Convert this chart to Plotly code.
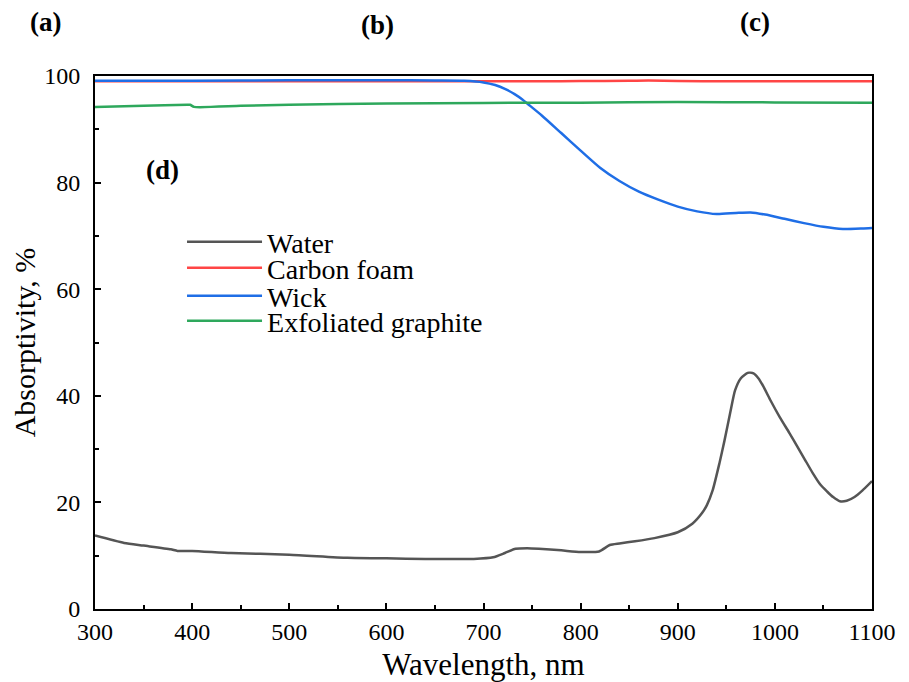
import plotly.graph_objects as go

# ---------------- data ----------------
water_x = [300, 330, 350, 378, 385, 400, 440, 500, 560, 600, 640, 690, 710, 722,
           733, 745, 757, 780, 800, 819, 830, 840, 856, 876, 900, 915, 925, 930,
           936, 943, 948, 954, 959, 965, 972, 978, 983, 988, 995, 1005, 1015, 1023,
           1031, 1039, 1047, 1054, 1060, 1067, 1074, 1082, 1090, 1100]
water_y = [13.8, 12.4, 11.9, 11.2, 10.9, 10.9, 10.5, 10.2, 9.6, 9.5, 9.4, 9.4, 9.7,
           10.5, 11.3, 11.4, 11.3, 11.0, 10.7, 10.8, 12.0, 12.3, 12.7, 13.3, 14.4,
           16.0, 18.0, 19.5, 22.3, 27.4, 31.5, 36.8, 41.0, 43.3, 44.3, 44.2, 43.3,
           41.8, 39.3, 36.0, 33.0, 30.5, 28.0, 25.5, 23.3, 22.0, 21.0, 20.2, 20.3,
           21.0, 22.2, 24.0]

foam_x = [300, 400, 500, 600, 700, 760, 800, 850, 870, 900, 950, 1000, 1050, 1100]
foam_y = [99.0, 99.0, 99.0, 99.0, 99.0, 99.0, 99.05, 99.1, 99.15, 99.05, 99.0,
          99.0, 99.0, 99.0]

wick_x = [300, 400, 500, 600, 650, 680, 700, 712, 722, 732, 740, 748, 760, 780,
          800, 820, 840, 860, 880, 900, 920, 940, 960, 975, 990, 1010, 1030, 1050,
          1070, 1090, 1100]
wick_y = [99.1, 99.1, 99.2, 99.2, 99.15, 99.1, 98.8, 98.3, 97.6, 96.6, 95.6, 94.4,
          92.6, 89.3, 86.0, 82.8, 80.3, 78.3, 76.8, 75.5, 74.6, 74.1, 74.3, 74.4,
          74.0, 73.2, 72.4, 71.7, 71.3, 71.4, 71.5]

graphite_x = [300, 350, 395, 398, 402, 450, 500, 600, 700, 800, 900, 1000, 1100]
graphite_y = [94.2, 94.4, 94.6, 94.6, 94.2, 94.4, 94.6, 94.85, 94.95, 95.0, 95.1,
              95.05, 95.0]

series = [
    ("Water", water_x, water_y, "#555555"),
    ("Carbon foam", foam_x, foam_y, "#ff4545"),
    ("Wick", wick_x, wick_y, "#1f6ee6"),
    ("Exfoliated graphite", graphite_x, graphite_y, "#2ea85c"),
]

x_ticks = [300, 400, 500, 600, 700, 800, 900, 1000, 1100]
y_ticks = [0, 20, 40, 60, 80, 100]
panel_labels = [("(a)", -0.064, 1.102), ("(b)", 0.364, 1.096),
                ("(c)", 0.849, 1.102), ("(d)", 0.0875, 0.824)]
legend_rows_y = [0.6886, 0.6398, 0.5872, 0.5403]

FONT = "Liberation Serif"

fig = go.Figure()
legend_names = ["legend", "legend2", "legend3", "legend4"]
for (name, xs, ys, col), lg in zip(series, legend_names):
    fig.add_trace(go.Scatter(x=xs, y=ys, name=name, mode="lines", legend=lg,
                             line=dict(color=col, width=2.5, shape="spline",
                                       smoothing=0.6)))

axis_common = dict(showline=True, linecolor="black", linewidth=2, mirror=True,
                   ticks="inside", ticklen=6, tickwidth=1.5, tickcolor="black",
                   showgrid=False, zeroline=False,
                   tickfont=dict(family=FONT, size=24, color="black"))

fig.update_xaxes(range=[300, 1100], tickvals=x_ticks,
                 minor=dict(ticks="inside", dtick=50, ticklen=4, tickcolor="black"),
                 title=dict(text="Wavelength, nm", standoff=12,
                            font=dict(family=FONT, size=31, color="black")),
                 **axis_common)
fig.update_yaxes(range=[0, 100], tickvals=y_ticks,
                 minor=dict(ticks="inside", dtick=10, ticklen=4, tickcolor="black"),
                 ticklabelstandoff=8,
                 title=dict(text="Absorptivity, %", standoff=2,
                            font=dict(family=FONT, size=30, color="black")),
                 **axis_common)

for txt, px, py in panel_labels:
    fig.add_annotation(text=f"<b>{txt}</b>", x=px, y=py, xref="paper", yref="paper",
                       xanchor="center", yanchor="middle", showarrow=False,
                       font=dict(family=FONT, size=27, color="black"))

legend_layout = {}
for lg, ly in zip(legend_names, legend_rows_y):
    legend_layout[lg] = dict(x=0.112, y=ly, xanchor="left", yanchor="middle",
                             bgcolor="rgba(0,0,0,0)", itemwidth=75,
                             font=dict(family=FONT, size=28, color="black"))

# the page adds an 8px body margin, so the figure is drawn 8px smaller
fig.update_layout(
    width=901, height=674,
    margin=dict(l=87, r=37, t=68, b=73, autoexpand=False),
    paper_bgcolor="white", plot_bgcolor="white",
    font=dict(family=FONT, color="black"),
    showlegend=True,
    **legend_layout,
)

fig.write_html("out.html")
